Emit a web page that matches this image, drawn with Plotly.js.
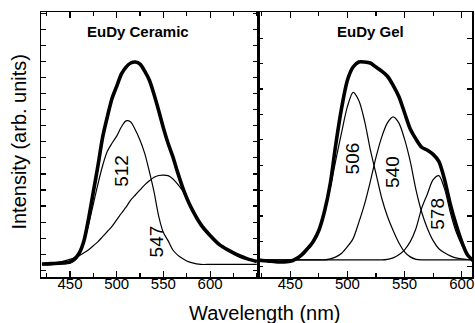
<!DOCTYPE html>
<html>
<head>
<meta charset="utf-8">
<script src="https://cdn.plot.ly/plotly-3.0.1.min.js"></script>
<style>html,body{margin:0;padding:0;background:#fff;}#chart{width:475px;height:323px;}</style>
</head>
<body>
<div id="chart"></div>
<script>
// ---- Data ----
const panelTitles = ['EuDy Ceramic', 'EuDy Gel'];
const xTitle = 'Wavelength (nm)';
const yTitle = 'Intensity (arb. units)';
const xTickVals = [450, 500, 550, 600];

// Left panel: EuDy Ceramic
const wlCeramic = [420,430,440,450,455,460,465,470,475,480,485,490,495,500,505,510,515,520,525,530,535,540,545,550,555,560,565,570,575,580,590,600,610,620,630,640,650];
const ceramicTotal = [0.005,0.007,0.010,0.015,0.03,0.06,0.12,0.23,0.36,0.49,0.63,0.73,0.82,0.88,0.94,0.975,0.995,1.0,0.99,0.955,0.91,0.84,0.76,0.675,0.60,0.535,0.46,0.39,0.33,0.28,0.20,0.145,0.10,0.072,0.048,0.03,0.017];
const ceramic512 = [0.0,0.002,0.004,0.01,0.022,0.05,0.11,0.20,0.30,0.40,0.49,0.56,0.60,0.635,0.68,0.71,0.705,0.665,0.615,0.55,0.46,0.36,0.24,0.16,0.12,0.075,0.05,0.033,0.02,0.012,0.003,0.003,0.003,0.003,0.003,0.003,0.003];
const ceramic547 = [0.003,0.007,0.015,0.028,0.036,0.046,0.06,0.075,0.095,0.115,0.14,0.165,0.19,0.222,0.255,0.285,0.32,0.345,0.37,0.395,0.415,0.432,0.441,0.443,0.44,0.425,0.40,0.37,0.33,0.285,0.20,0.145,0.10,0.071,0.047,0.029,0.016];
const ceramicPeakLabels = ['512', '547'];
const ceramicPeakLabelX = [504.8, 542.9];
const ceramicPeakLabelY = [0.465, 0.115];

// Right panel: EuDy Gel
const wlGel = [420,430,440,450,455,460,465,470,475,480,485,490,495,500,505,510,515,520,525,530,535,540,545,550,555,560,565,570,575,580,585,590,595,600,605,610];
const gelTotal = [0.025,0.02,0.015,0.018,0.03,0.05,0.08,0.115,0.17,0.265,0.40,0.60,0.775,0.91,0.975,1.0,1.0,0.995,0.975,0.955,0.93,0.885,0.83,0.75,0.67,0.62,0.58,0.565,0.545,0.51,0.42,0.30,0.20,0.115,0.05,0.022];
const gel506 = [0.025,0.02,0.015,0.018,0.028,0.045,0.075,0.11,0.165,0.255,0.38,0.52,0.655,0.78,0.85,0.81,0.71,0.57,0.45,0.33,0.24,0.17,0.11,0.065,0.04,0.028,0.025,0.025,0.025,0.025,0.025,0.025,0.025,0.025,0.025,0.025];
const gel540 = [0.025,0.025,0.025,0.025,0.025,0.025,0.025,0.025,0.025,0.025,0.03,0.04,0.058,0.09,0.13,0.21,0.30,0.41,0.53,0.63,0.70,0.73,0.70,0.62,0.51,0.37,0.26,0.18,0.12,0.08,0.06,0.045,0.035,0.03,0.027,0.025];
const gel578 = [0.025,0.025,0.025,0.025,0.025,0.025,0.025,0.025,0.025,0.025,0.025,0.025,0.025,0.025,0.025,0.025,0.025,0.025,0.025,0.025,0.028,0.035,0.05,0.075,0.115,0.18,0.28,0.35,0.42,0.44,0.375,0.26,0.165,0.10,0.05,0.028];
const gelPeakLabels = ['506', '540', '578'];
const gelPeakLabelX = [504.2, 539.3, 578.8];
const gelPeakLabelY = [0.526, 0.46, 0.255];

// ---- Figure ----
const FONT = 'Arial, "Liberation Sans", sans-serif';
const thin = {color: '#000', width: 1.2, shape: 'spline', smoothing: 0.8};
const thick = {color: '#000', width: 3.6, shape: 'spline', smoothing: 0.8};

function tr(x, y, line, xa, ya, name) {
  return {x: x, y: y, mode: 'lines', line: line, xaxis: xa, yaxis: ya, name: name, hoverinfo: 'skip', showlegend: false};
}

const data = [
  tr(wlCeramic, ceramic547, thin, 'x', 'y', '547'),
  tr(wlCeramic, ceramic512, thin, 'x', 'y', '512'),
  tr(wlCeramic, ceramicTotal, thick, 'x', 'y', 'Total'),
  tr(wlGel, gel578, thin, 'x2', 'y2', '578'),
  tr(wlGel, gel540, thin, 'x2', 'y2', '540'),
  tr(wlGel, gel506, thin, 'x2', 'y2', '506'),
  tr(wlGel, gelTotal, thick, 'x2', 'y2', 'Total')
];

const commonX = {
  showline: true, linecolor: '#000', linewidth: 1.5, mirror: 'allticks',
  ticks: 'inside', ticklen: 6, tickwidth: 1.2, tickcolor: '#000',
  tickmode: 'array', tickvals: xTickVals,
  showgrid: false, zeroline: false,
  tickfont: {family: FONT, size: 15, color: '#000'},
  ticklabelstandoff: -8
};
const commonY = {
  showline: true, linecolor: '#000', linewidth: 1.5, mirror: 'allticks',
  ticks: 'inside', ticklen: 5, tickwidth: 1.2, tickcolor: '#000',
  showticklabels: false, showgrid: false, zeroline: false,
  range: [-0.0591, 1.2463]
};

const annotations = [];
annotations.push({xref: 'x', yref: 'y', x: 522.3, y: 1.148, text: '<b>' + panelTitles[0] + '</b>', showarrow: false, font: {family: FONT, size: 15, color: '#000'}});
annotations.push({xref: 'x2', yref: 'y2', x: 520.5, y: 1.148, text: '<b>' + panelTitles[1] + '</b>', showarrow: false, font: {family: FONT, size: 15, color: '#000'}});
ceramicPeakLabels.forEach((t, i) => annotations.push({xref: 'x', yref: 'y', x: ceramicPeakLabelX[i], y: ceramicPeakLabelY[i], text: t, textangle: -90, showarrow: false, font: {family: FONT, size: 19, color: '#000'}}));
gelPeakLabels.forEach((t, i) => annotations.push({xref: 'x2', yref: 'y2', x: gelPeakLabelX[i], y: gelPeakLabelY[i], text: t, textangle: -90, showarrow: false, font: {family: FONT, size: 19, color: '#000'}}));
annotations.push({xref: 'paper', yref: 'paper', x: 0.5197, y: -0.135, xanchor: 'center', yanchor: 'middle', text: xTitle, showarrow: false, font: {family: FONT, size: 20, color: '#000'}});
annotations.push({xref: 'paper', yref: 'paper', x: -0.051, y: 0.511, xanchor: 'center', yanchor: 'middle', text: yTitle, textangle: -90, showarrow: false, font: {family: FONT, size: 20, color: '#000'}});

const layout = {
  width: 475, height: 323,
  margin: {l: 41, r: 3, t: 12, b: 46, pad: 0},
  paper_bgcolor: '#fff', plot_bgcolor: '#fff',
  showlegend: false,
  font: {family: FONT, color: '#000'},
  xaxis: Object.assign({}, commonX, {domain: [0, 0.504], range: [419, 651.5], anchor: 'y',
    minor: {tickmode: 'array', tickvals: [425, 475, 525, 575, 625, 650], ticks: 'inside', ticklen: 4, tickwidth: 1.2, tickcolor: '#000'}}),
  yaxis: Object.assign({}, commonY, {domain: [0, 1], anchor: 'x', tick0: 0.0527, dtick: 0.0792}),
  xaxis2: Object.assign({}, commonX, {domain: [0.504, 1], range: [422, 609], anchor: 'y2',
    minor: {tickmode: 'array', tickvals: [425, 475, 525, 575], ticks: 'inside', ticklen: 4, tickwidth: 1.2, tickcolor: '#000'}}),
  yaxis2: Object.assign({}, commonY, {domain: [0, 1], anchor: 'x2', tick0: -0.0084, dtick: 0.1251}),
  annotations: annotations
};

Plotly.newPlot('chart', data, layout, {staticPlot: true, displayModeBar: false});
</script>
</body>
</html>
